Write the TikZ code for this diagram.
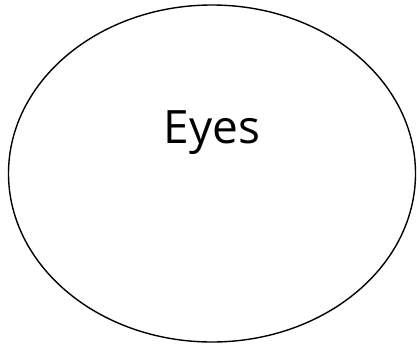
\documentclass[tikz,border=0pt]{standalone}
\usepackage{fontspec}
\setmainfont{Open Sans}
\usepackage{tikz}
\usetikzlibrary{positioning, shapes.geometric}

\begin{document}
\begin{tikzpicture}[
  x=1pt, y=1pt,
  organ/.style={draw, ellipse, line width=1.4pt, inner sep=0pt,
                minimum width=407pt, minimum height=337pt},
  organname/.style={font=\fontsize{46}{50}\selectfont, anchor=base},
]
  \useasboundingbox (0,0) rectangle (417,346);
  \node[organ] (eyesOval) at (212,172.5) {};
  \node[organname] (eyesName) at (212,203) {Eyes};
\end{tikzpicture}
\end{document}
